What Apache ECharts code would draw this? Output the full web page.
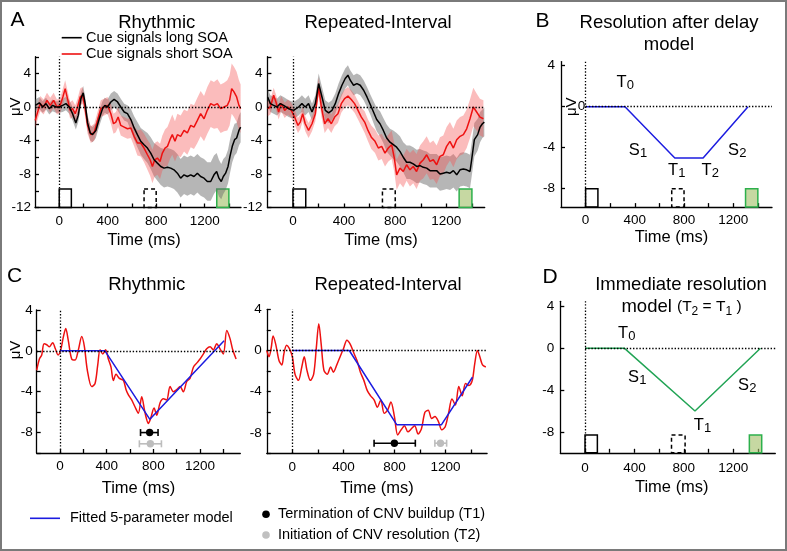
<!DOCTYPE html>
<html>
<head>
<meta charset="utf-8">
<script src="https://cdn.jsdelivr.net/npm/echarts@6/dist/echarts.min.js"></script>
<style>
  html, body { margin: 0; padding: 0; background: #fff; }
  #chart { width: 787px; height: 551px; }
</style>
</head>
<body>
<div id="chart"></div>
<script>
// ---------- data ----------
// A, Rhythmic: black = cue long SOA, red = cue short SOA (mean and half-width of shading)
const aRhyLongTime = [-198,-164,-137,-109,-82,-55,-27,0,28,55,83,110,137,157,179,198,214,234,256,275,302,330,357,376,398,426,453,481,508,536,563,591,618,645,673,700,728,755,783,810,838,865,893,920,947,975,1002,1030,1057,1085,1112,1140,1167,1195,1222,1250,1277,1299,1318,1337,1354,1373,1393,1409,1428,1447,1464,1483,1497];
const aRhyLong = [0.2,0.5,0.0,0.4,-0.2,0.2,0.0,0.0,0.2,0.4,0.0,-0.8,-1.9,-1.0,1.0,1.7,0.4,-1.9,-3.1,-3.3,-2.8,-1.4,-0.2,0.2,0.0,0.6,0.9,0.6,0.0,-0.6,-0.8,-1.5,-2.5,-3.3,-4.1,-4.5,-4.9,-5.5,-6.3,-6.7,-7.1,-7.3,-7.2,-7.3,-7.5,-7.9,-8.5,-8.1,-8.3,-8.1,-8.3,-7.9,-8.3,-8.5,-8.9,-8.9,-8.1,-7.7,-8.5,-8.9,-8.3,-7.9,-7.1,-5.9,-4.7,-3.9,-3.7,-2.8,-2.4];
const aRhyLongSem = [0.7,0.7,0.7,0.7,0.7,0.7,0.7,0.7,0.8,0.8,0.8,0.8,0.8,0.8,0.8,0.8,0.8,0.9,0.9,0.9,0.9,0.9,0.9,0.9,0.9,1.0,1.0,1.0,1.0,1.0,1.0,1.3,1.4,1.5,1.6,1.7,1.8,1.9,2.0,2.1,2.2,2.3,2.3,2.3,2.3,2.3,2.3,2.3,2.3,2.3,2.3,2.3,2.3,2.3,2.3,2.3,2.3,2.2,2.2,2.1,2.1,2.0,2.0,2.0,1.9,1.9,1.8,1.8,1.8];
const aRhyShortTime = [-198,-178,-156,-129,-101,-74,-46,-19,8,30,49,68,90,110,132,151,173,192,212,234,261,289,316,343,371,398,426,448,467,486,508,536,563,591,618,645,673,700,728,750,769,788,810,832,851,873,893,914,933,955,975,1002,1030,1057,1085,1112,1140,1167,1195,1222,1250,1277,1305,1332,1360,1387,1406,1423,1442,1464,1483,1497];
const aRhyShort = [-1.6,-0.6,0.4,0.0,0.8,0.2,0.8,0.0,0.2,1.2,2.2,1.0,-0.4,-0.2,-0.8,0.0,1.2,1.4,0.0,-2.2,-3.3,-3.0,-1.6,-0.2,0.0,0.2,-0.8,-2.0,-1.8,-1.2,-2.2,-2.4,-2.6,-2.5,-3.5,-4.3,-4.3,-4.9,-5.7,-6.3,-7.1,-6.3,-6.1,-6.5,-5.5,-4.9,-4.7,-3.9,-3.3,-4.1,-3.3,-3.5,-2.8,-3.1,-2.2,-2.4,-1.6,-0.8,-1.4,-0.4,0.4,0.2,0.4,-0.2,0.0,0.2,0.8,2.2,1.8,1.2,0.2,-0.2];
const aRhyShortSem = [0.9,0.9,0.9,0.9,0.9,0.9,0.9,0.9,0.9,1.0,1.0,1.0,1.0,1.0,1.0,1.0,1.0,1.0,1.0,1.0,1.0,1.0,1.0,1.0,1.0,1.0,1.2,1.2,1.2,1.2,1.2,1.2,1.2,1.2,1.2,1.5,1.6,1.7,1.8,1.9,2.0,2.0,2.0,2.1,2.1,2.2,2.3,2.3,2.4,2.4,2.5,2.5,2.5,2.6,2.6,2.6,2.7,2.7,2.7,2.8,2.8,2.8,2.9,2.9,2.9,3.0,3.0,3.0,3.0,3.0,3.0,2.9];

// A, Repeated-Interval
const aRepLongTime = [-198,-177,-151,-125,-99,-73,-34,5,44,70,96,122,149,175,201,227,253,279,305,331,357,383,409,430,448,474,500,526,553,579,605,630,655,681,707,733,759,785,811,837,863,889,915,941,968,994,1020,1046,1072,1098,1124,1150,1176,1202,1229,1255,1281,1307,1333,1359,1385,1398,1419,1445,1464,1482,1497];
const aRepLong = [1.2,0.4,0.2,0.0,0.4,0.2,-0.2,-0.4,0.0,0.4,0.0,0.4,-0.6,0.4,2.8,1.2,-0.4,-0.7,-0.4,0.4,1.6,2.6,3.4,3.8,3.2,2.6,2.8,2.6,2.0,1.2,0.3,-0.6,-1.5,-2.0,-2.8,-3.7,-4.2,-4.5,-4.8,-5.3,-6.0,-6.6,-6.6,-6.8,-7.1,-7.0,-7.2,-7.3,-7.6,-7.6,-7.6,-8.0,-7.9,-7.8,-7.9,-7.6,-8.1,-7.5,-7.4,-7.5,-7.7,-6.3,-3.9,-3.3,-2.4,-2.0,-1.8];
const aRepLongSem = [1.0,1.0,1.0,1.0,1.0,1.0,1.0,1.0,1.0,1.0,1.0,1.0,1.0,1.0,1.2,1.2,1.2,1.2,1.2,1.2,1.2,1.2,1.2,1.2,1.2,1.2,1.2,1.2,1.2,1.2,1.2,1.3,1.4,1.5,1.5,1.6,1.6,1.7,1.7,1.8,1.8,2.0,2.0,2.0,2.0,2.0,2.0,2.0,2.0,2.0,2.0,2.0,2.0,2.0,2.0,2.0,2.0,2.0,2.0,2.0,2.0,2.0,2.0,1.9,1.8,1.7,1.7];
const aRepShortTime = [-198,-177,-151,-133,-112,-92,-65,-39,-13,13,39,57,76,96,122,149,175,201,222,248,274,300,326,352,378,404,430,456,482,509,535,561,587,613,642,668,694,720,746,772,793,811,837,863,889,915,941,967,994,1020,1046,1072,1098,1124,1150,1176,1202,1228,1255,1281,1307,1333,1359,1385,1411,1437,1463,1490];
const aRepShort = [-0.2,0.0,1.4,0.6,-0.6,0.4,-0.4,0.0,-0.4,-1.2,-2.2,-1.8,-0.8,-2.0,-2.8,-2.0,-0.8,2.4,0.0,-2.0,-1.4,-2.0,-1.2,-0.8,0.4,1.0,1.3,0.9,0.4,-0.4,-1.2,-1.8,-2.8,-3.6,-4.1,-4.9,-4.7,-5.5,-4.9,-4.5,-6.1,-8.1,-7.3,-7.7,-6.9,-7.5,-7.1,-7.7,-6.7,-6.3,-5.7,-6.5,-6.3,-6.9,-5.9,-5.7,-4.7,-4.1,-4.9,-3.9,-3.5,-3.3,-2.6,-1.4,0.0,-0.6,-1.2,-1.4];
const aRepShortSem = [0.9,0.9,0.9,0.9,0.9,0.9,0.9,0.9,0.9,0.9,0.9,0.9,0.9,0.9,0.9,0.9,0.9,1.1,1.1,1.1,1.1,1.1,1.1,1.1,1.1,1.1,1.1,1.1,1.1,1.1,1.1,1.3,1.3,1.4,1.4,1.5,1.5,1.6,1.6,1.7,1.7,1.8,1.8,1.9,1.9,2.0,2.0,2.1,2.1,2.2,2.2,2.2,2.3,2.3,2.3,2.3,2.3,2.3,2.3,2.3,2.3,2.3,2.3,2.3,2.3,2.2,2.2,2.2];

// B and D: schematic models
const bModelTime = [0, 320, 725, 955, 1320];
const bModelVal = [0, 0, -5, -5, 0];
const dModelTime = [0, 320, 890, 1420];
const dModelVal = [0, 0, -6, 0];

// C: short-SOA difference waves and fitted 5-parameter model
const cRhyTime = [-200,-177,-157,-137,-114,-91,-63,-40,-17,6,29,49,71,100,129,157,186,209,234,271,300,323,343,366,391,414,437,457,480,509,543,566,586,614,643,671,700,729,757,777,806,829,857,886,914,943,971,1000,1029,1057,1086,1114,1143,1171,1200,1229,1257,1286,1314,1343,1371,1400,1429,1457,1480,1509];
const cRhyWave = [-1.9,-0.8,-0.4,0.7,0.6,0.4,0.8,0.2,-0.4,0.1,1.4,2.2,1.0,-0.8,-0.9,0.1,1.4,0.4,-1.9,-3.5,-3.2,-1.4,0.1,-0.3,0.1,-0.8,-1.6,-2.9,-2.3,-2.7,-2.9,-3.8,-4.3,-4.8,-5.5,-6.1,-4.5,-6.1,-7.1,-6.6,-5.6,-6.3,-5.1,-4.7,-4.8,-3.5,-4.0,-3.8,-3.5,-4.0,-3.0,-2.7,-1.6,-1.2,-0.8,-0.3,0.2,0.4,0.1,0.7,0.2,-0.3,2.0,1.2,0.1,-0.8];
const cRepTime = [-200,-183,-165,-151,-130,-104,-82,-66,-45,-24,0,21,48,74,93,114,141,167,188,207,226,247,273,300,321,348,374,401,427,454,480,507,533,560,587,613,640,666,693,719,746,772,799,825,852,878,905,932,958,985,1011,1038,1064,1091,1117,1144,1170,1197,1223,1250,1277,1303,1330,1356,1383,1409,1428,1449,1468,1489,1515];
const cRepWave = [0.0,-0.6,0.3,1.4,0.6,-1.0,-1.4,-0.3,0.5,0.2,-0.6,-2.3,-2.9,-1.6,-0.6,-1.9,-2.9,-2.3,0.3,2.6,0.6,-1.9,-2.3,-1.6,-2.1,-1.4,-0.6,0.2,1.0,0.6,-0.2,-1.0,-2.1,-2.9,-3.9,-4.4,-4.8,-5.5,-4.8,-6.1,-5.8,-5.0,-6.4,-8.2,-7.7,-7.3,-7.9,-7.6,-7.3,-8.1,-7.6,-6.0,-5.8,-6.6,-6.4,-6.9,-7.7,-7.4,-6.1,-4.7,-5.3,-3.5,-4.4,-3.2,-3.4,-2.9,-1.3,0.0,-0.6,-1.4,-1.6];
const cRhyFitTime = [0, 385, 770, 1406];
const cRhyFitVal = [0, 0, -6.7, 1.0];
const cRepFitTime = [0, 446, 817, 1168, 1410];
const cRepFitVal = [0, 0, -7.2, -7.2, -2.6];
// [mean time, plotted level, lower, upper]
const cRhyT1 = [768, -8.0, 690, 840];
const cRhyT2 = [774, -9.1, 680, 869];
const cRepT1 = [799, -9.0, 640, 963];
const cRepT2 = [1160, -9.0, 1116, 1208];

// stimulus windows (ms)
const cueWin = [0, 100];
const shortWin = [700, 800];
const longWin = [1300, 1400];
const dShortWin = [700, 810];
const dLongWin = [1330, 1430];

// ticks
const xTicks = [0, 200, 400, 600, 800, 1000, 1200, 1400];
const xLabels = [0, 400, 800, 1200];
const yTicksA = [-12, -10, -8, -6, -4, -2, 0, 2, 4, 6];
const yLabelsA = [-12, -8, -4, 0, 4];
const yTicksB = [-8, -4, 0, 4];
const yLabelsB = [-8, -4, 4];
const yTicksC = [-10, -8, -6, -4, -2, 0, 2, 4];
const yLabelsC = [-8, -4, 0, 4];
const yLabelsD = [-8, -4, 0, 4];

// ---------- layout ----------
const FONT = "'Liberation Sans', Arial, sans-serif";
const RED = '#ee1111';
const BLUE = '#1c1ce0';
const GREEN = '#22a455';

const grids = [
  { left: 35, top: 56.75, width: 206, height: 150.75 },
  { left: 267.4, top: 56.75, width: 217.3, height: 150.75 },
  { left: 561, top: 61.6, width: 211, height: 145.5 },
  { left: 36.7, top: 310, width: 203.6, height: 143 },
  { left: 266.8, top: 309.3, width: 220.3, height: 144.2 },
  { left: 560.3, top: 301.3, width: 215, height: 151.5 }
];
const xMax = [1500, 1500, 1515, 1545, 1525, 1540];
const yMin = [-12, -12, -9.8, -10, -10, -10];
const yMax = [6, 6, 4.4, 4, 4, 4.5];
const yTicks = [yTicksA, yTicksA, yTicksB, yTicksC, yTicksC, yTicksB];
const yLabels = [yLabelsA, yLabelsA, yLabelsB, yLabelsC, yLabelsC, yLabelsD];
const nameGap = [24.5, 24.5, 21.6, 27, 26.5, 26];
const namePad = [12, 10, 10, 0, 0, 8];
const xMargin = [7, 7, 6, 6.7, 6.7, 8];
const yMargin = [4, 5, 6, 4, 5, 6];

const axisLineStyle = { color: '#000', width: 1.3 };
const plain = v => String(v);

const xAxis = grids.map((g, i) => ({
  gridIndex: i, type: 'value', min: -200, max: xMax[i],
  axisLine: { onZero: false, lineStyle: axisLineStyle },
  axisTick: { inside: true, length: 4, customValues: xTicks, lineStyle: axisLineStyle },
  axisLabel: { customValues: xLabels, formatter: plain, margin: xMargin[i], color: '#000', fontSize: 13.5, fontFamily: FONT },
  splitLine: { show: false },
  name: 'Time (ms)', nameLocation: 'middle', nameGap: nameGap[i],
  nameTextStyle: { color: '#000', fontSize: 16.5, fontFamily: FONT, padding: [0, 0, 0, namePad[i]] }
}));

const yAxis = grids.map((g, i) => ({
  gridIndex: i, type: 'value', min: yMin[i], max: yMax[i],
  axisLine: { onZero: false, lineStyle: axisLineStyle },
  axisTick: { inside: true, length: 4, customValues: yTicks[i], lineStyle: axisLineStyle },
  axisLabel: { customValues: yLabels[i], formatter: plain, margin: yMargin[i], color: '#000', fontSize: 13.5, fontFamily: FONT },
  splitLine: { show: false }
}));

const series = [];

function boxes(i, list, y0, y1) {
  series.push({
    type: 'custom', xAxisIndex: i, yAxisIndex: i, z: 1, silent: true,
    data: list.map(b => [b.win[0], b.win[1], y0, y1]),
    encode: { x: [0, 1], y: [2, 3] },
    renderItem: (params, api) => {
      const a = api.coord([api.value(0), api.value(3)]);
      const b = api.coord([api.value(1), api.value(2)]);
      const kind = list[params.dataIndex].kind;
      let style = { fill: 'none', stroke: '#000', lineWidth: 1.5 };
      if (kind === 'short') style.lineDash = [4, 3];
      if (kind === 'long') style = { fill: 'rgba(160,190,100,0.6)', stroke: '#2db04c', lineWidth: 1.5 };
      return { type: 'rect', shape: { x: a[0], y: a[1], width: b[0] - a[0], height: b[1] - a[1] }, style };
    }
  });
}

function band(i, ts, vs, sem, fill) {
  series.push({
    type: 'custom', xAxisIndex: i, yAxisIndex: i, z: 2, silent: true,
    data: ts.map((t, k) => [t, vs[k] + sem[k], vs[k] - sem[k]]),
    encode: { x: 0, y: [1, 2] },
    renderItem: (params, api) => {
      if (params.dataIndex !== 0) return null;
      const up = ts.map((t, k) => api.coord([t, vs[k] + sem[k]]));
      const lo = ts.map((t, k) => api.coord([t, vs[k] - sem[k]])).reverse();
      return { type: 'polygon', shape: { points: up.concat(lo) }, style: { fill } };
    }
  });
}

function line(i, ts, vs, color, smooth) {
  series.push({
    type: 'line', xAxisIndex: i, yAxisIndex: i, z: 3, silent: true,
    showSymbol: false, symbol: 'none', smooth: smooth || false,
    data: ts.map((t, k) => [t, vs[k]]),
    lineStyle: { color, width: 1.5 }, itemStyle: { color }
  });
}

function refLines(i, zeroFromOnset) {
  const zero = zeroFromOnset ? [{ coord: [0, 0] }, { coord: [xMax[i], 0] }] : { yAxis: 0 };
  series.push({
    type: 'line', xAxisIndex: i, yAxisIndex: i, z: 2, silent: true, data: [],
    markLine: {
      silent: true, symbol: ['none', 'none'], label: { show: false }, animation: false,
      lineStyle: { type: [1.4, 1.8], color: '#000', width: 1.3 },
      data: [{ xAxis: 0 }, zero]
    }
  });
}

function errBar(i, e, color) {
  series.push({
    type: 'custom', xAxisIndex: i, yAxisIndex: i, z: 4, silent: true,
    data: [e], encode: { x: [0, 2, 3], y: 1 },
    renderItem: (params, api) => {
      const c = api.coord([api.value(0), api.value(1)]);
      const l = api.coord([api.value(2), api.value(1)]);
      const r = api.coord([api.value(3), api.value(1)]);
      const st = { stroke: color, lineWidth: 1.6 };
      return { type: 'group', children: [
        { type: 'line', shape: { x1: l[0], y1: l[1], x2: r[0], y2: r[1] }, style: st },
        { type: 'line', shape: { x1: l[0], y1: l[1] - 3.5, x2: l[0], y2: l[1] + 3.5 }, style: st },
        { type: 'line', shape: { x1: r[0], y1: r[1] - 3.5, x2: r[0], y2: r[1] + 3.5 }, style: st },
        { type: 'circle', shape: { cx: c[0], cy: c[1], r: 3.7 }, style: { fill: color } }
      ]};
    }
  });
}

// model parameter names (letter + subscript digit) anchored at data coordinates
function notes(i, list) {
  series.push({
    type: 'custom', xAxisIndex: i, yAxisIndex: i, z: 5, silent: true,
    data: list.map(n => [n.t, n.v]),
    encode: { x: 0, y: 1 },
    renderItem: (params, api) => {
      const n = list[params.dataIndex];
      const c = api.coord([api.value(0), api.value(1)]);
      const left = c[0] - 8.6;
      return { type: 'group', children: [
        { type: 'text', x: left, y: c[1] + 8,
          style: { text: n.main, fill: '#000', fontSize: 16.5, fontFamily: FONT, align: 'left', verticalAlign: 'bottom' } },
        { type: 'text', x: left + (n.main === 'T' ? 10.3 : 11.2), y: c[1] + 9,
          style: { text: n.sub, fill: '#000', fontSize: 13, fontFamily: FONT, align: 'left', verticalAlign: 'bottom' } }
      ]};
    }
  });
}

const stimA = [{ win: cueWin, kind: 'cue' }, { win: shortWin, kind: 'short' }, { win: longWin, kind: 'long' }];
const stimD = [{ win: cueWin, kind: 'cue' }, { win: dShortWin, kind: 'short' }, { win: dLongWin, kind: 'long' }];

// A Rhythmic
boxes(0, stimA, -12, -9.8);
band(0, aRhyLongTime, aRhyLong, aRhyLongSem, 'rgba(110,110,110,0.5)');
band(0, aRhyShortTime, aRhyShort, aRhyShortSem, 'rgba(245,80,80,0.38)');
refLines(0, false);
line(0, aRhyShortTime, aRhyShort, RED);
line(0, aRhyLongTime, aRhyLong, '#000');

// A Repeated-Interval
boxes(1, stimA, -12, -9.8);
band(1, aRepLongTime, aRepLong, aRepLongSem, 'rgba(110,110,110,0.5)');
band(1, aRepShortTime, aRepShort, aRepShortSem, 'rgba(245,80,80,0.38)');
refLines(1, false);
line(1, aRepShortTime, aRepShort, RED);
line(1, aRepLongTime, aRepLong, '#000');

// B
boxes(2, stimA, -9.8, -8);
refLines(2, true);
line(2, bModelTime, bModelVal, BLUE);
notes(2, [
  { t: 320, v: 2.36, main: 'T', sub: '0' },
  { t: 421, v: -4.3, main: 'S', sub: '1' },
  { t: 740, v: -6.25, main: 'T', sub: '1' },
  { t: 1011, v: -6.25, main: 'T', sub: '2' },
  { t: 1228, v: -4.3, main: 'S', sub: '2' }
]);

// C Rhythmic
refLines(3, false);
line(3, cRhyTime, cRhyWave, RED, 0.3);
line(3, cRhyFitTime, cRhyFitVal, BLUE);
errBar(3, cRhyT2, '#bdbdbd');
errBar(3, cRhyT1, '#000');

// C Repeated-Interval
refLines(4, false);
line(4, cRepTime, cRepWave, RED, 0.3);
line(4, cRepFitTime, cRepFitVal, BLUE);
errBar(4, cRepT2, '#bdbdbd');
errBar(4, cRepT1, '#000');

// D
boxes(5, stimD, -10, -8.3);
refLines(5, true);
line(5, dModelTime, dModelVal, GREEN);
notes(5, [
  { t: 337, v: 1.35, main: 'T', sub: '0' },
  { t: 418, v: -2.8, main: 'S', sub: '1' },
  { t: 950, v: -7.4, main: 'T', sub: '1' },
  { t: 1308, v: -3.6, main: 'S', sub: '2' }
]);

// ---------- text and legends ----------
function txt(text, x, y, size, align, extra) {
  return Object.assign({
    type: 'text', x, y, silent: true,
    style: { text, fill: '#000', fontSize: size, fontFamily: FONT, align: align || 'center', verticalAlign: 'middle' }
  }, extra || {});
}

const graphic = [
  { type: 'rect', silent: true, shape: { x: 1, y: 1, width: 785, height: 549 }, style: { fill: 'none', stroke: '#7a7a7a', lineWidth: 2 } },
  txt('A', 17.5, 20.7, 21),
  txt('Rhythmic', 156.7, 22.7, 18.5),
  txt('Repeated-Interval', 378, 22.7, 18.5),
  { type: 'line', silent: true, shape: { x1: 61.7, y1: 37.7, x2: 81.7, y2: 37.7 }, style: { stroke: '#000', lineWidth: 1.6 } },
  { type: 'line', silent: true, shape: { x1: 61.7, y1: 54, x2: 81.7, y2: 54 }, style: { stroke: RED, lineWidth: 1.6 } },
  txt('Cue signals long SOA', 86, 37.7, 14.5, 'left'),
  txt('Cue signals short SOA', 86, 54, 14.5, 'left'),
  txt('μV', 16, 106.7, 15, 'center', { rotation: Math.PI / 2 }),
  txt('B', 542.5, 20.8, 21),
  txt('Resolution after delay', 669, 23.3, 18.5),
  txt('model', 669, 45, 18.5),
  txt('μV', 572, 106.7, 15, 'center', { rotation: Math.PI / 2 }),
  txt('0', 581.5, 106.7, 13.5),
  txt('C', 14.5, 276, 21),
  txt('Rhythmic', 146.7, 285, 18.5),
  txt('Repeated-Interval', 388, 285, 18.5),
  txt('μV', 16, 350, 15, 'center', { rotation: Math.PI / 2 }),
  txt('D', 550, 277, 21),
  txt('Immediate resolution', 681, 285, 18.5),
  {
    type: 'text', x: 681.5, y: 306.7, silent: true,
    style: {
      text: '{a|model }{b|(T}{c|2}{b| = T}{c|1}{b| )}',
      align: 'center', verticalAlign: 'middle',
      rich: {
        a: { fontSize: 18.5, fontFamily: FONT, fill: '#000', lineHeight: 22, verticalAlign: 'middle' },
        b: { fontSize: 15.5, fontFamily: FONT, fill: '#000', lineHeight: 22, verticalAlign: 'middle' },
        c: { fontSize: 12, fontFamily: FONT, fill: '#000', lineHeight: 18, verticalAlign: 'bottom' }
      }
    }
  },
  { type: 'line', silent: true, shape: { x1: 30, y1: 518.3, x2: 60, y2: 518.3 }, style: { stroke: BLUE, lineWidth: 1.6 } },
  txt('Fitted 5-parameter model', 70, 518.3, 14.5, 'left'),
  { type: 'circle', silent: true, shape: { cx: 266, cy: 514.3, r: 3.8 }, style: { fill: '#000' } },
  txt('Termination of CNV buildup (T1)', 278, 514.3, 14.5, 'left'),
  { type: 'circle', silent: true, shape: { cx: 266, cy: 535, r: 3.8 }, style: { fill: '#c0c0c0' } },
  txt('Initiation of CNV resolution (T2)', 278, 535, 14.5, 'left')
];

const chart = echarts.init(document.getElementById('chart'), null, { renderer: 'canvas' });
chart.setOption({
  animation: false,
  backgroundColor: '#fff',
  grid: grids.map(g => Object.assign({ containLabel: false, outerBoundsMode: 'none', show: false }, g)),
  xAxis,
  yAxis,
  series,
  graphic
});
</script>
</body>
</html>
